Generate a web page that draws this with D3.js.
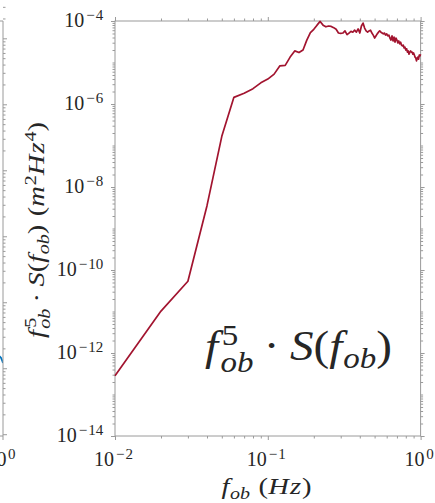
<!DOCTYPE html>
<html>
<head>
<meta charset="utf-8">
<script src="https://cdn.jsdelivr.net/npm/d3@7"></script>
<style>
  body { margin: 0; background: #fff; }
</style>
</head>
<body>
<div id="chart"></div>
<script>
// frequency (Hz) and log10 of f^5 * S(f)
const freq = [0.01, 0.02, 0.03, 0.04, 0.05, 0.06, 0.07, 0.08, 0.09, 0.10,
    0.11, 0.12, 0.13, 0.14, 0.15, 0.16, 0.17, 0.18, 0.19, 0.20,
    0.21, 0.22, 0.23, 0.24, 0.25, 0.26, 0.27, 0.28, 0.29, 0.30,
    0.31, 0.32, 0.33, 0.34, 0.35, 0.36, 0.37, 0.38, 0.39, 0.40,
    0.41, 0.42, 0.43, 0.44, 0.45, 0.46, 0.47, 0.48, 0.49, 0.50,
    0.51, 0.52, 0.53, 0.54, 0.55, 0.56, 0.57, 0.58, 0.59, 0.60,
    0.61, 0.62, 0.63, 0.64, 0.65, 0.66, 0.67, 0.68, 0.69, 0.70,
    0.71, 0.72, 0.73, 0.74, 0.75, 0.76, 0.77, 0.78, 0.79, 0.80,
    0.81, 0.82, 0.83, 0.84, 0.85, 0.86, 0.87, 0.88, 0.89, 0.90,
    0.91, 0.92, 0.93, 0.94, 0.95, 0.96, 0.97, 0.98, 0.99, 1.00];
const logSpec = [-12.55, -10.99, -10.27, -8.45, -6.78, -5.84, -5.74, -5.63, -5.49, -5.40,
    -5.28, -5.08, -5.07, -4.87, -4.72, -4.76, -4.70, -4.46, -4.28, -4.20,
    -4.10, -4.01, -4.10, -4.14, -4.12, -4.13, -4.16, -4.20, -4.29, -4.30,
    -4.29, -4.24, -4.33, -4.29, -4.25, -4.27, -4.22, -4.27, -4.19, -4.29,
    -4.12, -4.05, -4.17, -4.24, -4.27, -4.24, -4.22, -4.29, -4.34, -4.41,
    -4.36, -4.31, -4.27, -4.24, -4.27, -4.29, -4.31, -4.29, -4.34, -4.31,
    -4.36, -4.34, -4.41, -4.46, -4.36, -4.48, -4.39, -4.51, -4.41, -4.46,
    -4.53, -4.48, -4.55, -4.51, -4.58, -4.60, -4.58, -4.65, -4.63, -4.70,
    -4.67, -4.75, -4.72, -4.80, -4.75, -4.72, -4.75, -4.75, -4.80, -4.77,
    -4.82, -4.87, -4.89, -4.96, -4.89, -4.87, -4.92, -4.82, -4.84, -4.80];

// end of the neighbouring panel's blue curve, only its last bit shows
const leftFreq = [0.94, 0.97, 0.99, 1.00];
const leftLog = [-8.81, -8.84, -8.89, -8.92];

const xTickExp = [-2, -1, 0];
const yTickExp = [-14, -12, -10, -8, -6, -4];

const W = 435, H = 503;
const plot = { left: 115, right: 420.6, top: 21, bottom: 436 };
const red = "#a2142f", blue = "#0072bd", axisCol = "#9a9a9a";

const svg = d3.select("#chart").append("svg")
    .attr("width", W)
    .attr("height", H);

const x = d3.scaleLog().domain([1e-2, 1]).range([plot.left, plot.right]);
const y = d3.scaleLog().domain([1e-14, 1e-4]).range([plot.bottom, plot.top]);

// lays out a little latex-like formula piece by piece;
// fitW stretches it sideways to a wanted width
function mathText(parent, parts, size, px, py, anchor = "start", fitW = null) {
    const g = parent.append("g");
    let cx = 0, prevStart = 0;
    parts.forEach(p => {
        const fs = p.lvl ? size * (p.s || 0.7) : size;
        let dy = p.lvl === 1 ? -size * 0.36 : p.lvl === -1 ? size * 0.2 : 0;
        if (p.dy !== undefined) dy = p.dy * size;
        const t = g.append("text")
            .attr("y", dy)
            .attr("font-family", "Liberation Serif")
            .attr("font-size", fs)
            .attr("font-style", p.i ? "italic" : "normal")
            .attr("fill", "#262626")
            .text(p.t);
        const w = t.node().getComputedTextLength();
        let x0 = (p.stack ? prevStart : cx) + (p.dx || 0) * size;
        t.attr("x", x0);
        if (p.stack) cx = Math.max(cx, x0 + w);
        else { prevStart = x0; cx = x0 + w; }
    });
    const sx = fitW ? fitW / cx : 1;
    const off = anchor === "middle" ? -cx / 2 : anchor === "end" ? -cx : 0;
    g.attr("transform", `translate(${px + off * sx},${py}) scale(${sx},1)`);
    return g;
}

const powLabel = e => {
    const parts = [{ t: "10" }];
    if (e < 0) parts.push({ t: "\u2212", lvl: 1, s: 0.75, dy: -0.34, dx: 0.1 });
    parts.push({ t: String(Math.abs(e)), lvl: 1, s: 0.75, dy: -0.34, dx: e < 0 ? 0.06 : 0.08 });
    return parts;
};

// minor ticks for a log axis between two exponents
function minorTicks(e0, e1, skip) {
    const out = [];
    for (let e = e0; e < e1; e++) {
        for (let m = 1; m < 10; m++) {
            const v = m * Math.pow(10, e);
            if (m === 1 && skip.includes(e)) continue;
            out.push(v);
        }
    }
    return out;
}

function styleAxis(g) {
    g.select(".domain").remove();
    g.selectAll("line").attr("stroke", axisCol);
}

// ---- left neighbour panel (cut off) ----
const yL = d3.scaleLog().domain([Math.pow(10, -10.027), Math.pow(10, -3.7375)]).range([plot.bottom, plot.top]);
const xL = d3.scaleLog().domain([1e-2, 1]).range([3 - 305.6, 3]);
svg.append("clipPath").attr("id", "clipL")
    .append("rect").attr("x", 0).attr("y", plot.top).attr("width", 3).attr("height", plot.bottom - plot.top);
svg.append("path")
    .datum(leftFreq.map((f, i) => [f, Math.pow(10, leftLog[i])]))
    .attr("clip-path", "url(#clipL)")
    .attr("fill", "none")
    .attr("stroke", blue)
    .attr("stroke-width", 1.8)
    .attr("d", d3.line().x(d => xL(d[0])).y(d => yL(d[1])));
svg.append("g").attr("transform", "translate(3,0)")
    .call(d3.axisRight(yL).tickValues(minorTicks(-10, -3, d3.range(-10, -3))).tickSize(2.5).tickFormat(""))
    .call(styleAxis);
svg.append("g").attr("transform", "translate(3,0)")
    .call(d3.axisRight(yL).tickValues(d3.range(-10, -3).map(e => Math.pow(10, e))).tickSize(4).tickFormat(""))
    .call(styleAxis);
svg.append("path")
    .attr("d", `M0,${plot.top}H3V${plot.bottom}H0M3,${plot.bottom}v4`)
    .attr("fill", "none")
    .attr("stroke", axisCol);
mathText(svg, powLabel(0), 20, -13.5, 466);

// ---- main panel ----
const xMinor = minorTicks(-2, 0, xTickExp);
const yMinor = minorTicks(-14, -4, yTickExp);
const xMajor = xTickExp.map(e => Math.pow(10, e));
const yMajor = yTickExp.map(e => Math.pow(10, e));

[[d3.axisBottom, plot.bottom], [d3.axisTop, plot.top]].forEach(([ax, pos]) => {
    svg.append("g").attr("transform", `translate(0,${pos})`)
        .call(ax(x).tickValues(xMinor).tickSize(2.5).tickFormat("")).call(styleAxis);
    svg.append("g").attr("transform", `translate(0,${pos})`)
        .call(ax(x).tickValues(xMajor).tickSize(4).tickFormat("")).call(styleAxis);
});
[[d3.axisLeft, plot.left], [d3.axisRight, plot.right]].forEach(([ax, pos]) => {
    svg.append("g").attr("transform", `translate(${pos},0)`)
        .call(ax(y).tickValues(yMinor).tickSize(2.5).tickFormat("")).call(styleAxis);
    svg.append("g").attr("transform", `translate(${pos},0)`)
        .call(ax(y).tickValues(yMajor).tickSize(4).tickFormat("")).call(styleAxis);
});
svg.append("rect")
    .attr("x", plot.left).attr("y", plot.top)
    .attr("width", plot.right - plot.left).attr("height", plot.bottom - plot.top)
    .attr("fill", "none").attr("stroke", axisCol);

svg.append("path")
    .datum(freq.map((f, i) => [f, Math.pow(10, logSpec[i])]))
    .attr("fill", "none")
    .attr("stroke", red)
    .attr("stroke-width", 1.7)
    .attr("stroke-linejoin", "round")
    .attr("d", d3.line().x(d => x(d[0])).y(d => y(d[1])));

// tick labels
xTickExp.forEach(e => mathText(svg, powLabel(e), 20, x(Math.pow(10, e)) - 1.5, 466, "middle"));
yTickExp.forEach(e => mathText(svg, powLabel(e), 20, plot.left - 11.7, y(Math.pow(10, e)) + 6, "end"));

// axis titles
mathText(svg, [
    { t: "f", i: true }, { t: "ob", i: true, lvl: -1, dx: 0.02 },
    { t: "(", dx: 0.3 }, { t: "H", i: true }, { t: "z", i: true, dx: 0.04 }, { t: ")", dx: 0.03 }
], 23, 266.5, 494, "middle", 90);

const yTitle = svg.append("g").attr("transform", `translate(44,230) rotate(-90)`);
mathText(yTitle, [
    { t: "f", i: true }, { t: "5", lvl: 1, dx: 0.08 }, { t: "ob", i: true, lvl: -1, stack: true, dx: -0.03, dy: 0.28 },
    { t: "\u00b7", dx: 0.22 }, { t: "S", i: true, dx: 0.22 }, { t: "(" }, { t: "f", i: true },
    { t: "ob", i: true, lvl: -1, dx: 0.02 }, { t: ")" },
    { t: "(", dx: 0.3 }, { t: "m", i: true }, { t: "2", lvl: 1, dx: 0.03 }, { t: "H", i: true }, { t: "z", i: true, dx: 0.04 },
    { t: "4", lvl: 1, dx: 0.03 }, { t: ")" }
], 23, 0, 0, "middle", 216);

// big annotation inside the plot
mathText(svg, [
    { t: "f", i: true }, { t: "5", lvl: 1, dx: 0.08 }, { t: "ob", i: true, lvl: -1, stack: true, dx: -0.03, dy: 0.28 },
    { t: "\u00b7", dx: 0.22 }, { t: "S", i: true, dx: 0.22 }, { t: "(" }, { t: "f", i: true },
    { t: "ob", i: true, lvl: -1, dx: 0.02 }, { t: ")" }
], 42, 205, 360, "start", 187);
</script>
</body>
</html>
